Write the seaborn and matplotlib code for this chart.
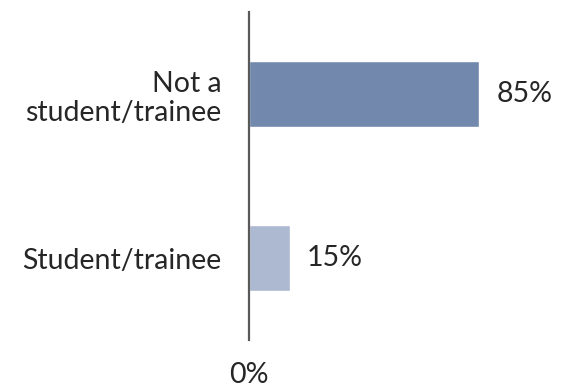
import matplotlib
matplotlib.use("Agg")
import matplotlib.pyplot as plt
import seaborn as sns
import pandas as pd

categories = ["Not a\nstudent/trainee", "Student/trainee"]
values = [85, 15]
bar_colors = ["#7289ad", "#adb9d0"]

sns.set_style("white")
plt.rcParams["font.family"] = ["Lato", "DejaVu Sans"]

df = pd.DataFrame({"category": categories, "share": values})

fig = plt.figure(figsize=(5.61, 3.87), dpi=100)
ax = fig.add_axes([0.4439, 0.1214, 0.4822, 0.8476])

sns.barplot(data=df, y="category", x="share", hue="category",
            palette=bar_colors, orient="h", width=0.4, legend=False,
            saturation=1, ax=ax)

ax.set_xlim(0, 100)
ax.set_ylim(1.5, -0.5)
ax.set_xticks([0])
ax.set_xticklabels(["0%"])
ax.set_xlabel("")
ax.set_ylabel("")

for s in ["top", "right", "bottom"]:
    ax.spines[s].set_visible(False)
ax.spines["left"].set_color("#595959")
ax.spines["left"].set_linewidth(1.6)

fs = 20.5
ax.tick_params(axis="x", length=0, pad=16, labelsize=fs, colors="#262626")
ax.tick_params(axis="y", length=0, pad=20, labelsize=fs, colors="#262626")
for lbl in ax.get_yticklabels():
    lbl.set_multialignment("right")
    lbl.set_linespacing(1.15)

for i, v in enumerate(values):
    ax.text(v + 6.5, i, f"{v}%", va="center", ha="left", fontsize=fs,
            color="#262626", clip_on=False)

fig.savefig("out.png", dpi=100, facecolor="white")
